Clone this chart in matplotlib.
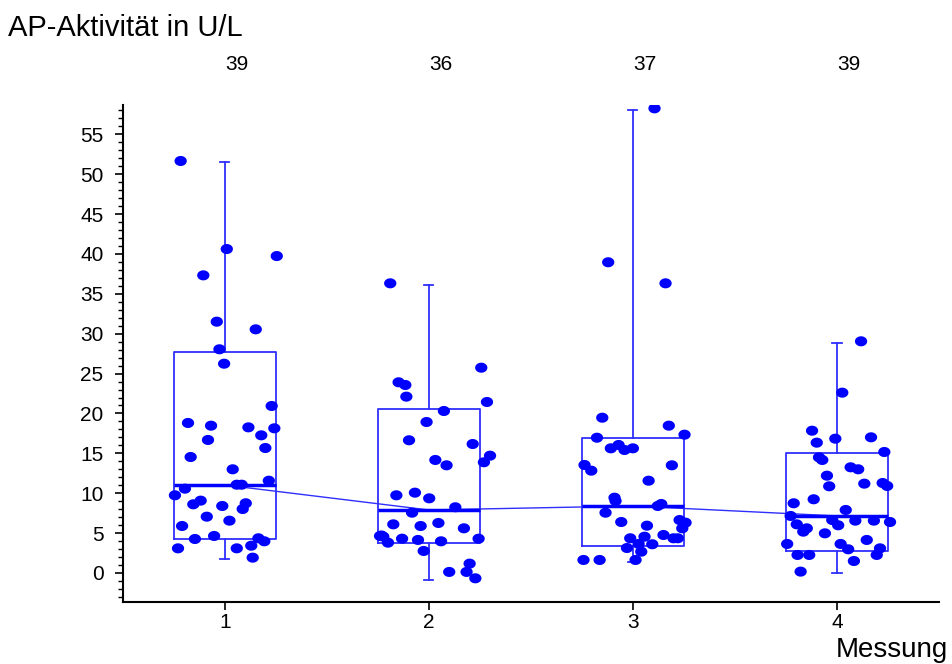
import matplotlib
matplotlib.use("Agg")
import matplotlib.pyplot as plt
import numpy as np
from matplotlib.path import Path
from matplotlib.ticker import MultipleLocator

plt.rcParams['font.family'] = ['Liberation Sans', 'DejaVu Sans']

# ---------------- data ----------------
groups = [1, 2, 3, 4]
counts = [39, 36, 37, 39]
title_text = "AP-Aktivität in U/L"
xlabel_text = "Messung"

# box statistics
q1 = [4.26, 3.76, 3.43, 2.80]
med = [11.03, 7.90, 8.40, 7.15]
q3 = [27.67, 20.56, 16.97, 15.00]
whislo = [1.76, -0.88, 1.42, -0.04]
whishi = [51.5, 36.15, 58.05, 28.84]

# individual values and horizontal jitter
g1_vals = [51.66, 40.62, 39.74, 37.32, 31.51, 30.55, 28.05, 26.24, 20.94, 18.81,
           18.47, 18.26, 18.14, 17.26, 16.68, 15.67, 14.54, 13.00, 11.57, 11.07,
           11.07, 10.57, 9.74, 9.07, 8.61, 8.40, 8.74, 8.02, 7.06, 6.56,
           5.89, 4.26, 4.64, 4.35, 3.97, 3.09, 3.09, 3.42, 1.92]
g1_jit = [-0.216, 0.010, 0.255, -0.105, -0.039, 0.152, -0.026, -0.003, 0.230, -0.180,
          -0.067, 0.116, 0.243, 0.179, -0.082, 0.199, -0.167, 0.039, 0.216, 0.059,
          0.083, -0.195, -0.244, -0.118, -0.154, -0.012, 0.103, 0.088, -0.088, 0.023,
          -0.209, -0.146, -0.052, 0.165, 0.194, -0.229, 0.059, 0.130, 0.137]

g2_vals = [36.32, 25.74, 23.91, 23.57, 22.11, 21.44, 20.31, 18.93, 16.64, 16.17,
           14.71, 13.88, 14.17, 13.50, 9.74, 10.07, 9.36, 8.24, 7.56, 6.10,
           5.89, 6.27, 5.60, 4.64, 4.55, 3.80, 4.30, 4.14, 3.97, 4.30,
           2.76, 1.17, 0.13, 0.13, -0.67, 4.70]
g2_jit = [-0.189, 0.257, -0.148, -0.115, -0.110, 0.285, 0.074, -0.011, -0.097, 0.215,
          0.300, 0.270, 0.032, 0.087, -0.159, -0.068, 0.002, 0.130, -0.082, -0.174,
          -0.040, 0.047, 0.172, -0.239, -0.223, -0.200, -0.131, -0.053, 0.060, 0.244,
          -0.025, 0.200, 0.100, 0.185, 0.228, -0.232]

g3_vals = [58.26, 38.96, 36.32, 19.47, 18.47, 17.34, 16.96, 15.63, 16.05, 15.42,
           15.63, 13.54, 12.83, 13.50, 11.57, 9.44, 9.03, 8.40, 8.65, 7.56,
           6.39, 6.64, 6.31, 5.60, 5.93, 4.76, 4.35, 4.35, 4.35, 4.55,
           3.60, 3.13, 3.64, 2.67, 1.63, 1.63, 1.63]
g3_jit = [0.106, -0.121, 0.160, -0.150, 0.176, 0.253, -0.176, -0.108, -0.070, -0.041,
          0.000, -0.237, -0.204, 0.191, 0.077, -0.090, -0.085, 0.122, 0.139, -0.134,
          -0.057, 0.229, 0.258, 0.242, 0.069, 0.150, 0.199, 0.220, -0.013, 0.057,
          0.095, -0.029, 0.028, 0.041, 0.013, -0.242, -0.163]

g4_vals = [29.05, 22.61, 17.84, 16.34, 16.84, 17.01, 15.17, 14.50, 14.17, 13.25,
           13.00, 12.20, 10.87, 11.20, 11.28, 10.91, 9.24, 8.74, 7.90, 7.15,
           6.10, 6.64, 5.98, 6.56, 6.56, 6.39, 5.18, 5.60, 4.97, 3.64,
           3.64, 2.97, 4.14, 3.09, 2.26, 2.26, 2.26, 1.50, 0.17]
g4_jit = [0.118, 0.026, -0.122, -0.099, -0.008, 0.167, 0.232, -0.088, -0.072, 0.067,
          0.104, -0.049, -0.038, 0.134, 0.224, 0.246, -0.114, -0.212, 0.043, -0.227,
          -0.197, -0.023, 0.006, 0.090, 0.181, 0.260, -0.165, -0.148, -0.059, -0.244,
          0.018, 0.055, 0.146, 0.211, 0.195, -0.193, -0.136, 0.083, -0.178]

all_vals = [g1_vals, g2_vals, g3_vals, g4_vals]
all_jit = [g1_jit, g2_jit, g3_jit, g4_jit]

# ---------------- figure ----------------
W, H = 953, 664
fig = plt.figure(figsize=(W / 100, H / 100), dpi=100)
ax = fig.add_axes([122.7 / W, 62 / H, (939 - 122.7) / W, (602 - 105) / H])

box_color = '#2f2fff'
pt_color = '#0000ff'

stats = []
for i in range(4):
    stats.append(dict(q1=q1[i], med=med[i], q3=q3[i], whislo=whislo[i],
                      whishi=whishi[i], fliers=[]))

ax.bxp(stats, positions=groups, widths=0.5, showfliers=False, capwidths=0.045,
       boxprops=dict(color=box_color, linewidth=1.3),
       whiskerprops=dict(color=box_color, linewidth=1.3),
       capprops=dict(color=box_color, linewidth=1.3),
       medianprops=dict(color=pt_color, linewidth=2.5),
       zorder=2)

ax.plot(groups, med, color=box_color, linewidth=1.0, zorder=2)

# elliptical marker
t = np.linspace(0, 2 * np.pi, 60)
ell = Path(np.column_stack([np.cos(t), 0.82 * np.sin(t)]), closed=True)

for i in range(4):
    xs = groups[i] + np.array(all_jit[i])
    ys = np.array(all_vals[i])
    ax.scatter(xs, ys, marker=ell, s=78, color=pt_color, edgecolors='none', zorder=3)

ax.set_xlim(0.5, 4.5)
ax.set_ylim(-3.64, 58.68)
ax.set_xticks(groups)
ax.set_xticklabels([str(g) for g in groups])
ax.yaxis.set_major_locator(MultipleLocator(5))
ax.yaxis.set_minor_locator(MultipleLocator(1))
ax.set_yticks(np.arange(0, 56, 5))

for s in ['top', 'right']:
    ax.spines[s].set_visible(False)
for s in ['left', 'bottom']:
    ax.spines[s].set_linewidth(1.5)
    ax.spines[s].set_color('black')

ax.tick_params(axis='y', which='major', direction='out', length=5.8, width=1.2,
               labelsize=15, colors='black', pad=8)
ax.tick_params(axis='y', which='minor', direction='out', length=3.6, width=1.0)
ax.tick_params(axis='x', which='major', direction='out', length=5.5, width=1.2,
               labelsize=15, colors='black', pad=2.5)

# counts above groups
count_y = (602 - 70) / (602 - 105)
for g, c in zip(groups, counts):
    ax.text(g + 0.06, count_y, str(c), transform=ax.get_xaxis_transform(),
            ha='center', va='baseline', fontsize=15)

fig.text(8 / W, 1 - 36 / H, title_text, ha='left', va='baseline', fontsize=21)
fig.text(948 / W, 7 / H, xlabel_text, ha='right', va='baseline', fontsize=20)

fig.savefig('out.png', dpi=100)
